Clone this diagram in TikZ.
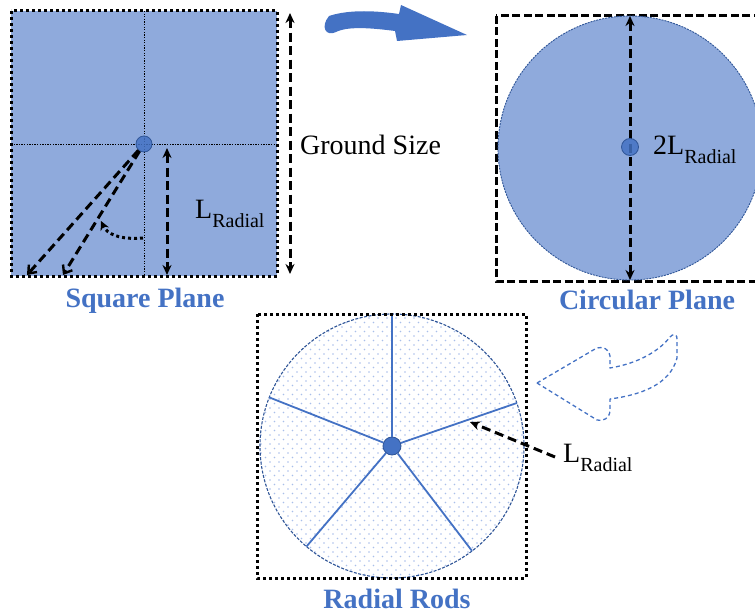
\documentclass[tikz,border=0pt]{standalone}
\usepackage{fontspec}
\setmainfont{Liberation Serif}
\usetikzlibrary{arrows.meta,patterns.meta}
\definecolor{planefill}{HTML}{8FAADC}
\definecolor{accent}{HTML}{4472C4}
\definecolor{edge}{HTML}{2F5597}
\definecolor{dotblue}{HTML}{A9BFEA}
\newcommand\LRad[1]{#1L\raisebox{-0.3em}{\fontsize{20}{20}\selectfont Radial}}
\tikzset{
  lbl/.style={font=\fontsize{28}{30}\selectfont, inner sep=0pt, anchor=west},
  title/.style={font=\fontsize{28}{30}\selectfont\bfseries, text=accent, inner sep=0pt},
  dotbox/.style={draw=black, line width=3pt, dash pattern=on 3pt off 3pt},
  dashbox/.style={draw=black, line width=3pt, dash pattern=on 8pt off 3.5pt},
  crossline/.style={draw=black, line width=0.9pt, dash pattern=on 1.3pt off 1.3pt},
  measure/.style={draw=black, line width=3pt, dash pattern=on 9pt off 4.5pt,
    arrows={Stealth[length=10pt,width=9pt]-Stealth[length=10pt,width=9pt]}},
  diag/.style={draw=black, line width=3pt, dash pattern=on 9pt off 5pt,
    arrows={-Straight Barb[length=7pt,width=11pt,line width=2.4pt]}},
  curvearrow/.style={draw=black, line width=3pt, dash pattern=on 3pt off 3pt,
    arrows={-Stealth[length=9pt,width=9pt]}},
  hub/.style={circle, fill=accent, draw=edge, line width=0.8pt, inner sep=0pt},
  rod/.style={draw=accent, line width=1.8pt},
}
\begin{document}
\begin{tikzpicture}[x=1pt,y=-1pt]
\useasboundingbox (0,0) rectangle (755,615);

% ---------------- Square plane ----------------
\fill[planefill] (11,11) rectangle (277,276);
\draw[crossline] (144,11) -- (144,276);
\draw[crossline] (11,144) -- (277,144);
\node[hub, minimum size=16pt, fill opacity=0.85] (sqc) at (144,144) {};
\coordinate (sqA) at (27,275);
\coordinate (sqB) at (63,275);
\draw[diag] (sqc) -- (sqA);
\draw[diag] (sqc) -- (sqB);
\coordinate (angS) at (143,238);
\coordinate (angE) at (101,221);
\draw[curvearrow] (angS) .. controls (120,240) and (107,234) .. (angE);
\coordinate (lrTop) at (167,148);
\coordinate (lrBot) at (167,275);
\draw[measure] (lrTop) -- (lrBot);
\node[lbl] (lr1) at (195,214) {\LRad{}};
\draw[dotbox] (11,11) rectangle (277,276);
\node[title] (tsq) at (145,301) {Square Plane};

% Ground size
\coordinate (gsTop) at (290,13);
\coordinate (gsBot) at (290,274);
\draw[measure] (gsTop) -- (gsBot);
\node[lbl] (gs) at (300,145) {Ground Size};

% top blue arrow
\fill[accent] (329,16) .. controls (350,9) and (378,11) .. (399,14)
  -- (401,5) -- (467,35) -- (397,41) -- (395,31)
  .. controls (372,28) and (348,26) .. (336,32)
  .. controls (326,37) and (320,27) .. (329,16) -- cycle;

% ---------------- Circular plane ----------------
\draw[dashbox] (496,16) rectangle (772,281);
\draw[fill=planefill, draw=edge, line width=0.9pt, dash pattern=on 2pt off 1pt] (630,148) circle (132);
\coordinate (cTop) at (630,16);
\coordinate (cBot) at (630,280);
\draw[measure] (cTop) -- (cBot);
\node[hub, minimum size=17pt, fill opacity=0.85] (cc) at (630,147) {};
\node[lbl] (lr2) at (653,150) {\LRad{2}};
\node[title] (tci) at (647,300) {Circular Plane};

% ---------------- Radial rods ----------------
\fill[pattern={Dots[radius=0.8pt, distance=9pt]}, pattern color=dotblue] (392,446) circle (132);
\fill[pattern={Dots[radius=0.8pt, distance=9pt, xshift=4.5pt, yshift=4.5pt]}, pattern color=dotblue] (392,446) circle (132);
\draw[draw=edge, line width=1.1pt, dash pattern=on 3pt off 1.5pt] (392,446) circle (132);
\node[hub, minimum size=18pt] (rc) at (392,446) {};
\coordinate (r1) at (392,314);
\coordinate (r2) at (516.8,403);
\coordinate (r3) at (269.3,397.4);
\coordinate (r4) at (306.4,546.6);
\coordinate (r5) at (472,550.9);
\foreach \e in {r1,r2,r3,r4,r5} \draw[rod] (rc) -- (\e);
\draw[dotbox] (257,314) rectangle (526,578);
\node[lbl] (lr3) at (563,458) {\LRad{}};
\coordinate (rodS) at (555,457);
\coordinate (rodE) at (470,422);
\draw[diag, arrows={-Stealth[length=10pt,width=9pt]}] (rodS) -- (rodE);
\node[title] (trr) at (397,599) {Radial Rods};

% outline curved arrow
\draw[accent, line width=1.3pt, dash pattern=on 4pt off 3pt, line join=round]
  (537,383) -- (595,349) .. controls (603,345) and (610,350) .. (610,356)
  -- (610,368) .. controls (640,363) and (660,350) .. (670,337)
  .. controls (673,333) and (678,334) .. (677,340)
  -- (677,358) .. controls (670,385) and (640,395) .. (610,399)
  -- (610,410) .. controls (610,418) and (603,422) .. (597,420) -- cycle;
\end{tikzpicture}
\end{document}
